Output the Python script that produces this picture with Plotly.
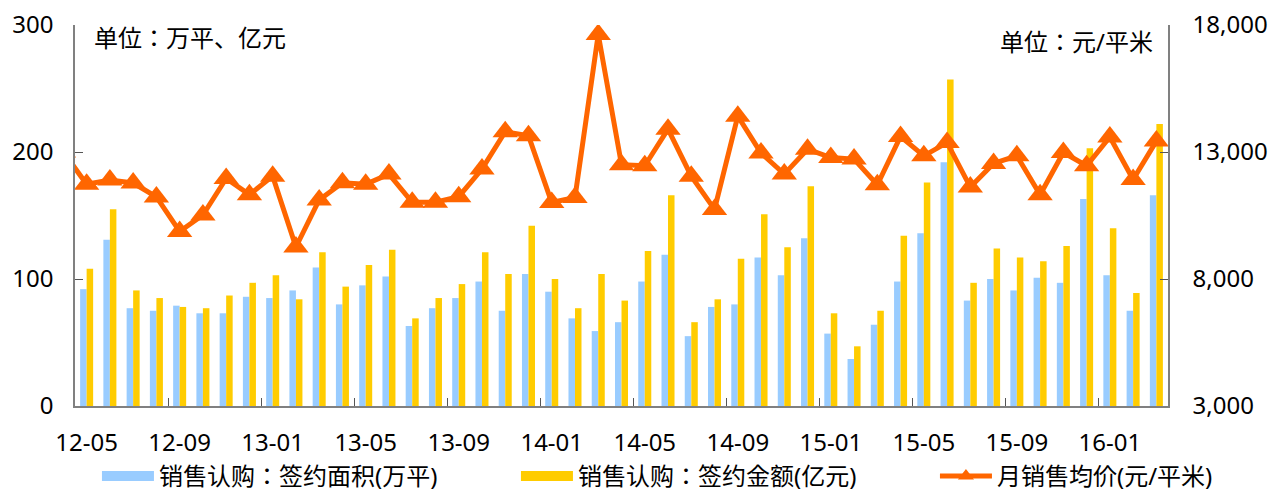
import plotly.graph_objects as go

months = ["12-05","12-06","12-07","12-08","12-09","12-10","12-11","12-12",
          "13-01","13-02","13-03","13-04","13-05","13-06","13-07","13-08",
          "13-09","13-10","13-11","13-12","14-01","14-02","14-03","14-04",
          "14-05","14-06","14-07","14-08","14-09","14-10","14-11","14-12",
          "15-01","15-02","15-03","15-04","15-05","15-06","15-07","15-08",
          "15-09","15-10","15-11","15-12","16-01","16-02","16-03"]

area = [92, 131, 77, 75, 79, 73, 73, 86,
        85, 91, 109, 80, 95, 102, 63, 77,
        85, 98, 75, 104, 90, 69, 59, 66,
        98, 119, 55, 78, 80, 117, 103, 132,
        57, 37, 64, 98, 136, 192, 83, 100,
        91, 101, 97, 163, 103, 75, 166]

amount = [108, 155, 91, 85, 78, 77, 87, 97,
          103, 84, 121, 94, 111, 123, 69, 85,
          96, 121, 104, 142, 100, 77, 104, 83,
          122, 166, 66, 84, 116, 151, 125, 173,
          73, 47, 75, 134, 176, 257, 97, 124,
          117, 114, 126, 203, 140, 89, 222]

price = [11730, 11900, 11780, 11230, 9870, 10520, 11960, 11320,
         12050, 9260, 11110, 11790, 11730, 12130, 11020, 11020,
         11240, 12330, 13800, 13640, 11010, 11210, 17630, 12500,
         12460, 13900, 12050, 10740, 14410, 12960, 12130, 13110,
         12780, 12720, 11710, 13610, 12850, 13370, 11620, 12550,
         12850, 11320, 12980, 12460, 13590, 11920, 13430]

# the line enters from the left edge: previous month (12-04) average price
price_prev = 13000

left_ticks = [0, 100, 200, 300]
right_ticks = [3000, 8000, 13000, 18000]

name_area = "销售认购：签约面积(万平)"
name_amount = "销售认购：签约金额(亿元)"
name_price = "月销售均价(元/平米)"

BLUE = "#99CCFF"
YELLOW = "#FFCC00"
ORANGE = "#FF6600"
FONT = "Noto Sans, Noto Sans CJK JP, sans-serif"

xs = list(range(len(months)))

fig = go.Figure()
fig.add_trace(go.Bar(x=xs, y=area, name=name_area, marker=dict(color=BLUE, line=dict(width=0)),
                     showlegend=False))
fig.add_trace(go.Bar(x=xs, y=amount, name=name_amount, marker=dict(color=YELLOW, line=dict(width=0)),
                     showlegend=False))
fig.add_trace(go.Scatter(x=[-1] + xs, y=[price_prev] + price, name=name_price, yaxis="y2",
                         mode="lines+markers",
                         line=dict(color=ORANGE, width=5),
                         marker=dict(symbol="triangle-up", size=22, color=ORANGE),
                         showlegend=False))

# legend entries
fig.add_trace(go.Scatter(x=[None], y=[None], mode="lines", name=name_area,
                         line=dict(color=BLUE, width=14), legendwidth=352))
fig.add_trace(go.Scatter(x=[None], y=[None], mode="lines", name=name_amount,
                         line=dict(color=YELLOW, width=14), legendwidth=352))
fig.add_trace(go.Scatter(x=[None], y=[None], mode="lines+markers", name=name_price,
                         line=dict(color=ORANGE, width=5),
                         marker=dict(symbol="triangle-up", size=14, color=ORANGE)))

tick_idx = list(range(0, len(months), 4))

# the page body adds an 8 px offset, so the figure is 8 px smaller in each direction
fig.update_layout(
    width=1269, height=483,
    margin=dict(l=67, r=109, t=17, b=85, autoexpand=False),
    paper_bgcolor="white", plot_bgcolor="white",
    font=dict(family=FONT, size=24, color="black"),
    barmode="group", bargap=0.44, bargroupgap=0,
    showlegend=True,
    legend=dict(orientation="h", x=1.0457, xanchor="right", y=-0.185, yanchor="middle",
                font=dict(size=24), itemwidth=52,
                bgcolor="rgba(0,0,0,0)"),
    xaxis=dict(range=[-0.5, len(months) - 0.5], tickvals=tick_idx,
               ticktext=[months[i] for i in tick_idx], ticks="",
               showline=True, linecolor="#808080", linewidth=1.5,
               showgrid=False, zeroline=False, ticklabelstandoff=14,
               ticklabeloverflow="allow",
               minor=dict(tickvals=[i - 0.5 for i in tick_idx[1:]], ticks="inside",
                          ticklen=8, tickcolor="#555555", tickwidth=1, showgrid=False)),
    yaxis=dict(range=[0, 300], tickvals=left_ticks, ticks="inside", ticklen=8,
               tickcolor="#555555", showline=True, linecolor="#808080", linewidth=1.5,
               showgrid=False, zeroline=False, ticklabelstandoff=15,
               ticklabeloverflow="allow"),
    yaxis2=dict(range=[3000, 18000], tickvals=right_ticks, tickformat=",", overlaying="y",
                side="right", ticks="inside", ticklen=8, tickcolor="#555555",
                showline=True, linecolor="#808080", linewidth=1.5, showgrid=False,
                zeroline=False, ticklabelstandoff=18, ticklabeloverflow="allow"),
    annotations=[
        dict(text="单位：万平、亿元", xref="paper", yref="paper", x=0.0156, y=0.966,
             xanchor="left", yanchor="middle", showarrow=False, font=dict(size=24)),
        dict(text="单位：元/平米", xref="paper", yref="paper", x=0.988, y=0.958,
             xanchor="right", yanchor="middle", showarrow=False, font=dict(size=24)),
    ],
)

fig.write_html("out.html")
